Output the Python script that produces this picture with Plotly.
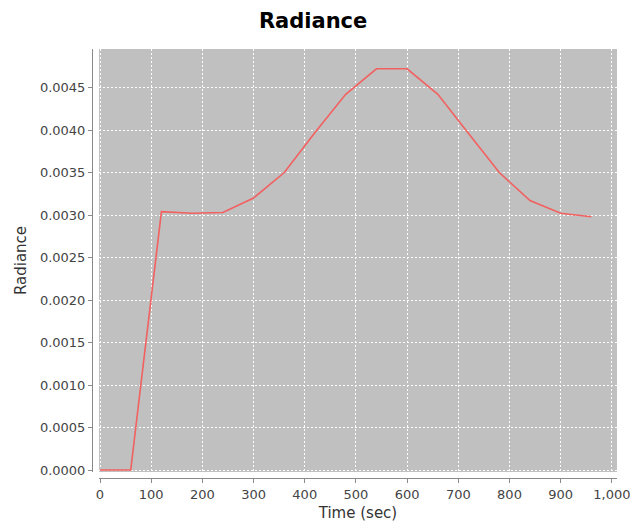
import plotly.graph_objects as go

time_sec = [0, 60, 120, 180, 240, 300, 360, 420, 480, 540, 600, 660, 720, 780, 840, 900, 960]
radiance = [0.0, 0.0, 0.00304, 0.00302, 0.00303, 0.00320, 0.00350, 0.00397, 0.00442, 0.00472,
            0.00472, 0.00442, 0.00396, 0.00350, 0.00317, 0.00302, 0.00298]

x_ticks = list(range(0, 1001, 100))
y_ticks = [i * 0.0005 for i in range(10)]

fig = go.Figure()
fig.add_trace(go.Scatter(x=time_sec, y=radiance, mode="lines",
                         line=dict(color="#f26060", width=1.6), showlegend=False))

font_family = "DejaVu Sans, sans-serif"
fig.update_layout(
    width=630, height=525,
    margin=dict(l=92, r=13, t=49, b=47, autoexpand=False),
    paper_bgcolor="white",
    plot_bgcolor="#c0c0c0",
    font=dict(family=font_family, color="#444444", size=13),
    title=dict(text="<b>Radiance</b>", x=0.497, xanchor="center", xref="container",
               y=0.96, yanchor="middle",
               font=dict(family=font_family, size=21, color="black")),
    xaxis=dict(
        range=[-2, 1010], domain=[0.0133, 1], anchor="free", position=0,
        automargin=False, ticklabeloverflow="allow",
        tickvals=x_ticks, tickformat=",d",
        showgrid=True, gridcolor="white", gridwidth=1, griddash="2px,2px",
        zeroline=False, showline=True, linecolor="#8a8a8a", linewidth=1,
        ticks="outside", ticklen=4, tickcolor="#8a8a8a",
        tickfont=dict(size=13, color="#444444"),
        title=dict(text="Time (sec)", font=dict(size=15, color="#333333"), standoff=6),
    ),
    yaxis=dict(
        range=[-0.0000235, 0.004953], domain=[0.014, 1], anchor="free", position=0,
        automargin=False, ticklabeloverflow="allow",
        tickvals=y_ticks, tickformat=".4f",
        showgrid=True, gridcolor="white", gridwidth=1, griddash="2px,2px",
        zeroline=False, showline=True, linecolor="#8a8a8a", linewidth=1,
        ticks="outside", ticklen=4, tickcolor="#8a8a8a",
        tickfont=dict(size=13, color="#444444"),
        title=dict(text="Radiance", font=dict(size=15, color="#333333"), standoff=8),
    ),
)

fig.write_html("out.html")
